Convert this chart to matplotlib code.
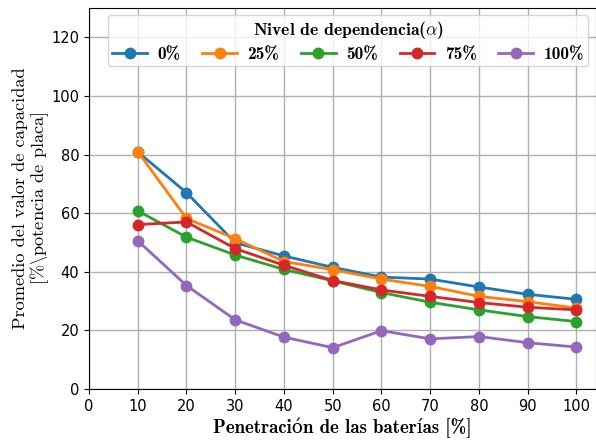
import matplotlib

matplotlib.use("Agg")
import matplotlib.pyplot as plt  # noqa: E402

penetracion = [10, 20, 30, 40, 50, 60, 70, 80, 90, 100]
niveles = ["0%", "25%", "50%", "75%", "100%"]
dep_0 = [80.9, 67.0, 49.9, 45.4, 41.5, 38.2, 37.5, 34.8, 32.3, 30.6]
dep_25 = [81.0, 58.2, 51.3, 43.5, 40.7, 37.5, 35.0, 31.6, 29.8, 27.6]
dep_50 = [60.8, 51.8, 45.7, 40.8, 36.9, 32.9, 29.6, 27.0, 24.7, 23.0]
dep_75 = [56.1, 57.0, 47.9, 42.2, 37.0, 33.8, 31.6, 29.5, 27.9, 27.0]
dep_100 = [50.6, 35.3, 23.6, 17.7, 14.1, 19.9, 17.1, 17.9, 15.8, 14.3]
series = [dep_0, dep_25, dep_50, dep_75, dep_100]
colors = ["#1f77b4", "#ff7f0e", "#2ca02c", "#d62728", "#9467bd"]

plt.rcParams["mathtext.fontset"] = "cm"
bold_font = ["cmb10", "DejaVu Serif"]
roman_font = ["cmr10", "DejaVu Serif"]

fig = plt.figure(figsize=(5.96, 4.41), dpi=100)
ax = fig.add_axes([0.1493, 0.1179, 0.8507, 0.864])

for vals, name, c in zip(series, niveles, colors):
    ax.plot(penetracion, vals, "-o", color=c, lw=2, ms=7.5, label=name)

ax.set_xlim(0, 104)
ax.set_ylim(0, 130)
ax.set_xticks(range(0, 101, 10))
ax.set_yticks(range(0, 121, 20))
ax.tick_params(labelsize=10.5)
ax.grid(True, color="#b0b0b0", lw=1)
ax.set_axisbelow(True)

ax.set_xlabel("Penetración de las baterías [%]", family=bold_font, fontsize=13.5, labelpad=3)
ax.set_ylabel("Promedio del valor de capacidad\n[%$\\backslash$potencia de placa]",
              family=roman_font, fontsize=13.2, linespacing=1.0, labelpad=0.5)

leg = ax.legend(title=r"Nivel de dependencia($\alpha$)", ncol=5, loc="upper center",
                bbox_to_anchor=(0.511, 1.0), prop={"family": bold_font, "size": 12.5},
                columnspacing=1.25, handlelength=2.0, handletextpad=0.6,
                borderpad=0.25, labelspacing=0.3, borderaxespad=0.4)
leg.get_title().set_family(bold_font)
leg.get_title().set_fontsize(12.7)

fig.savefig("out.png", dpi=100)
